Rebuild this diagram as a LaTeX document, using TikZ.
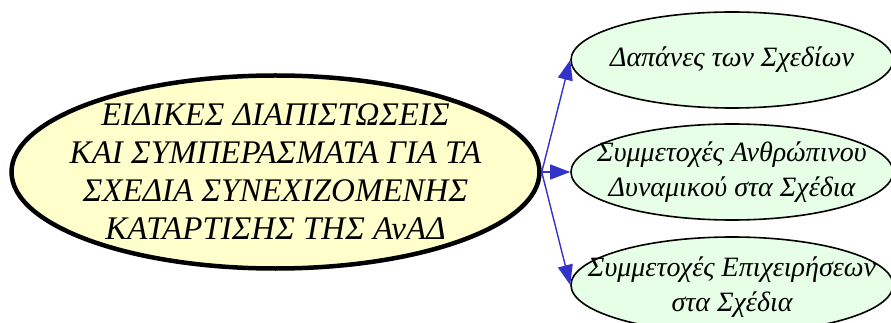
\documentclass[tikz,border=0pt]{standalone}
\usepackage{fontspec}
\setmainfont{Liberation Serif}
\usetikzlibrary{shapes.geometric,arrows.meta}
\definecolor{bigfill}{HTML}{FFFFCC}
\definecolor{smallfill}{HTML}{E6FFE6}
\definecolor{arrowblue}{HTML}{3333CC}
\begin{document}
\begin{tikzpicture}[x=1pt,y=-1pt,
  bigell/.style={ellipse,draw=black,line width=4.5pt,fill=bigfill,inner sep=0pt,
    minimum width=528pt,minimum height=193pt},
  bigtext/.style={align=center,inner sep=0pt,font=\fontsize{33}{38}\selectfont\itshape},
  smallell/.style={ellipse,draw=black,line width=1.6pt,fill=smallfill,inner sep=0pt,
    minimum width=322pt,minimum height=96pt},
  smalltext/.style={align=center,inner sep=0pt,font=\fontsize{28}{35}\selectfont\itshape},
  conn/.style={draw=arrowblue,line width=1.4pt,-{Triangle[length=20pt,width=15pt]}}]
\useasboundingbox (0,0) rectangle (891,323);
\clip (0,0) rectangle (891,323);
\node[bigell] (main) at (275.5,172) {};
\node[bigtext] (maintext) at (main.center) {ΕΙΔΙΚΕΣ ΔΙΑΠΙΣΤΩΣΕΙΣ\\ΚΑΙ ΣΥΜΠΕΡΑΣΜΑΤΑ ΓΙΑ ΤΑ\\ΣΧΕΔΙΑ ΣΥΝΕΧΙΖΟΜΕΝΗΣ\\ΚΑΤΑΡΤΙΣΗΣ ΤΗΣ ΑνΑΔ};
\node[smallell] (cost) at (732,60) {};
\node[smalltext] (costtext) at (cost.center) {Δαπάνες των Σχεδίων};
\node[smallell] (human) at (732,172) {};
\node[smalltext] (humantext) at (human.center) {Συμμετοχές Ανθρώπινου\\Δυναμικού στα Σχέδια};
\node[smallell] (firms) at (732,285) {};
\node[smalltext] (firmstext) at ([yshift=-2pt]firms.center) {Συμμετοχές Επιχειρήσεων\\στα Σχέδια};
\draw[conn] (main.east) -- (cost.west);
\draw[conn] (main.east) -- (human.west);
\draw[conn] (main.east) -- (firms.west);
\end{tikzpicture}
\end{document}
